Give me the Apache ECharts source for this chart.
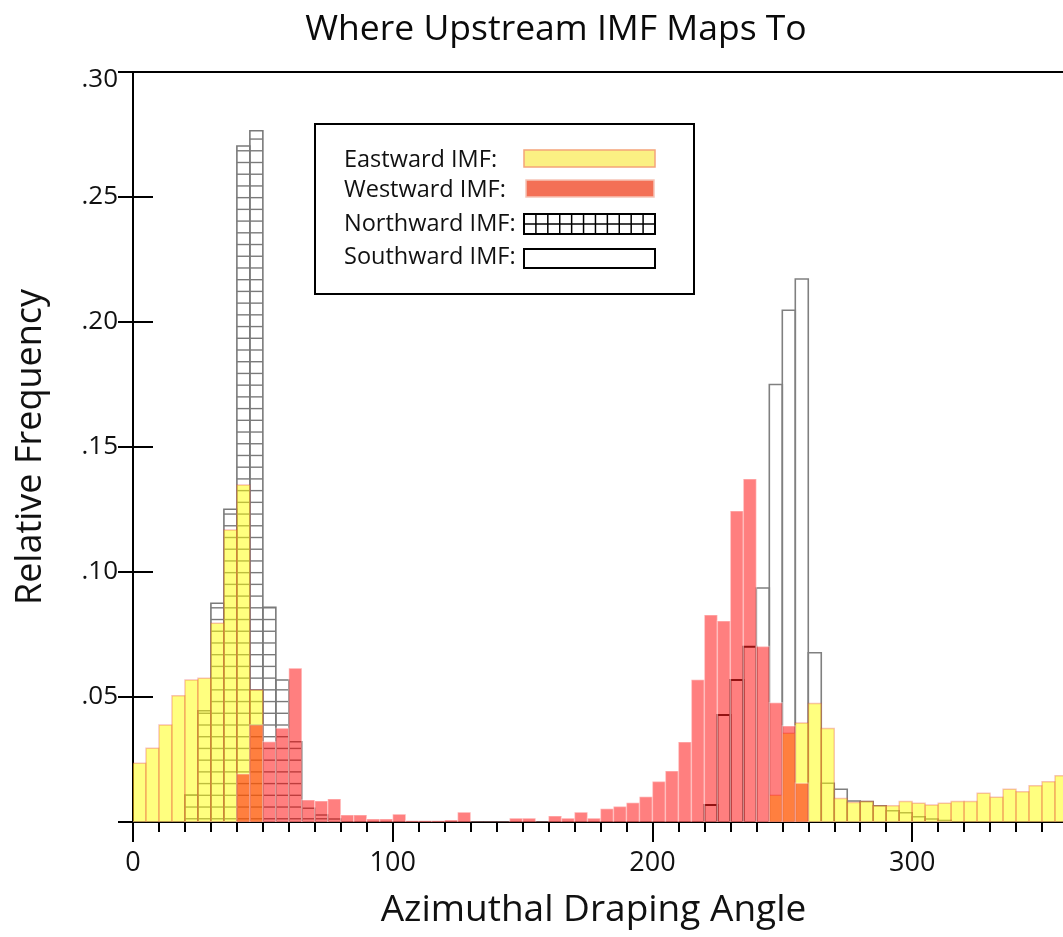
<!DOCTYPE html>
<html><head><meta charset="utf-8">
<script src="https://cdn.jsdelivr.net/npm/echarts@6/dist/echarts.min.js"></script>
<style>html,body{margin:0;padding:0;background:#fff}#c{width:1063px;height:937px}</style>
</head><body><div id="c"></div>
<script>
// ---- data (relative frequency per 5-degree bin, 0..360) ----
const binWidth = 5;
const eastward = [
  0.0235,0.0295,0.0388,0.0505,0.0568,0.0575,0.0795,0.1168,0.1348,0.0528,
  0,0,0,0,0,0,0,0,0,0,
  0,0,0,0,0,0,0,0,0,0,
  0,0,0,0,0,0,0,0,0,0,
  0,0,0,0,0,0,0,0,0,0.0107,
  0.0355,0.0396,0.0474,0.0374,0.0094,0.0078,0.0082,0.0065,0.0065,0.0082,
  0.0075,0.0068,0.0075,0.0082,0.0082,0.0115,0.0099,0.0131,0.0121,0.0145,
  0.0161,0.0185
];
const westward = [
  0,0,0,0,0,0,0,0,0.0192,0.0388,
  0.0321,0.0375,0.0615,0.0088,0.0084,0.0092,0.0028,0.0028,0.0012,0.0012,
  0.0031,0.0005,0.0005,0.0005,0.0008,0.0039,0,0,0,0.0015,
  0.0015,0,0.0024,0.0015,0.0039,0.0015,0.0053,0.0062,0.0077,0.0101,
  0.0162,0.0204,0.0320,0.0569,0.0828,0.0804,0.1244,0.1372,0.0702,0.0477,
  0.0384,0.0155,0,0,0,0,0,0,0,0,
  0,0,0,0,0,0,0,0,0,0,
  0,0
];
// Northward IMF: hatched lobe near 45 deg, plain outlined lobe near 230 deg
const northwardHatched = [
  0,0,0,0,0.0108,0.0445,0.0875,0.1251,0.2704,0.2765,
  0.0859,0.0568,0.0321,0.0055,0.0028,0.0012
];
const northwardOutline = { start: 44, values: [0.0068,0.0428,0.0568,0.0701] };
const southward = { start: 48, values: [
  0.0936,0.1750,0.2047,0.2172,0.0677,0.0155,0.0131,0.0084,0.0082,0.0065,
  0.0045,0.0037,0.0021,0.0012,0.0006
]};
const yTicks = [0, 0.05, 0.10, 0.15, 0.20, 0.25, 0.30];
const xMajorTicks = [0, 100, 200, 300];
const legendItems = ['Eastward IMF:', 'Westward IMF:', 'Northward IMF:', 'Southward IMF:'];

// ---- build ----
function bins(arr, start) {
  start = start || 0;
  return arr.map((v, i) => [(start + i) * binWidth, (start + i + 1) * binWidth, v]);
}
const FONT = '"Open Sans", "Noto Sans", sans-serif';
const HATCH_STEP = 0.0046875, HATCH_OFF = 0.0013;

function rectOf(api) {
  const a = api.coord([api.value(0), api.value(2)]);
  const b = api.coord([api.value(1), 0]);
  return { x: a[0], y: a[1], width: b[0] - a[0], height: b[1] - a[1] };
}
function filledSeries(name, data, fill, stroke, z) {
  return {
    type: 'custom', name, data, silent: true, clip: true, z,
    encode: { x: [0, 1], y: 2 },
    renderItem: (p, api) => ({
      type: 'rect', shape: rectOf(api),
      style: { fill, stroke, lineWidth: 1.4 }
    })
  };
}
function outlineSeries(name, data, stroke, width, hatched) {
  return {
    type: 'custom', name, data, silent: true, clip: true, z: 1,
    encode: { x: [0, 1], y: 2 },
    renderItem: (p, api) => {
      const v = api.value(2);
      if (!(v > 0)) return null;
      const r = rectOf(api);
      const children = [{
        type: 'rect', shape: r,
        style: { fill: 'none', stroke, lineWidth: width }
      }];
      if (hatched) {
        for (let h = HATCH_OFF; h < v; h += HATCH_STEP) {
          const y = api.coord([0, h])[1];
          children.push({
            type: 'line', shape: { x1: r.x, y1: y, x2: r.x + r.width, y2: y },
            style: { stroke, lineWidth: 1.4 }
          });
        }
      }
      return { type: 'group', children };
    }
  };
}

const chart = echarts.init(document.getElementById('c'), null, { renderer: 'canvas' });

// legend graphics
const lgX = 344, lgRows = [160, 190, 224, 257];
const swX = 524, swW = 131;
const legendGraphic = [
  { type: 'rect', shape: { x: 315, y: 124, width: 379, height: 170 },
    style: { fill: '#fff', stroke: '#000', lineWidth: 2 }, z: 100 }
];
legendItems.forEach((t, i) => {
  legendGraphic.push({ type: 'text', x: lgX, y: lgRows[i], z: 101,
    style: { text: t, font: '23.5px ' + FONT, fill: '#111', textVerticalAlign: 'middle', verticalAlign: 'middle' } });
});
legendGraphic.push({ type: 'rect', z: 101, shape: { x: swX, y: 150, width: swW, height: 17 },
  style: { fill: '#fbf083', stroke: '#f5a47a', lineWidth: 1.5 } });
legendGraphic.push({ type: 'rect', z: 101, shape: { x: swX + 2, y: 180, width: swW - 3, height: 17 },
  style: { fill: '#f37056', stroke: '#f6c4b6', lineWidth: 1.5 } });
// northward swatch: grid
const nsY = 214, nsH = 20, nsCols = 11;
legendGraphic.push({ type: 'rect', z: 101, shape: { x: swX, y: nsY, width: swW, height: nsH },
  style: { fill: '#fff', stroke: '#000', lineWidth: 2 } });
legendGraphic.push({ type: 'line', z: 102, shape: { x1: swX, y1: nsY + nsH / 2, x2: swX + swW, y2: nsY + nsH / 2 },
  style: { stroke: '#000', lineWidth: 1.5 } });
for (let c = 1; c < nsCols; c++) {
  const x = swX + c * swW / nsCols;
  legendGraphic.push({ type: 'line', z: 102, shape: { x1: x, y1: nsY, x2: x, y2: nsY + nsH },
    style: { stroke: '#000', lineWidth: 1.5 } });
}
legendGraphic.push({ type: 'rect', z: 101, shape: { x: swX, y: 249, width: swW, height: 19 },
  style: { fill: '#fff', stroke: '#000', lineWidth: 2 } });

const axisLine = { show: true, lineStyle: { color: '#000', width: 2 } };
chart.setOption({
  backgroundColor: '#fff',
  animation: false,
  title: {
    text: 'Where Upstream IMF Maps To', left: 551, top: 7, textAlign: 'center',
    textStyle: { fontFamily: FONT, fontSize: 35.5, fontWeight: 'normal', color: '#0a0a0a' }
  },
  grid: { left: 133, top: 72, width: 935, height: 750, show: true, borderColor: '#000', borderWidth: 2,
          containLabel: false, outerBoundsMode: 'none' },
  xAxis: [
    { type: 'value', min: 0, max: 360, interval: 10, position: 'bottom',
      axisLine, splitLine: { show: false },
      axisTick: { show: true, inside: false, length: 10, lineStyle: { color: '#000', width: 2 } },
      axisLabel: { show: false } },
    { type: 'value', min: 0, max: 360, interval: 100, position: 'bottom',
      axisLine: { show: false }, splitLine: { show: false },
      axisTick: { show: true, inside: false, length: 20, lineStyle: { color: '#000', width: 2 } },
      axisLabel: { show: true, margin: 28, showMaxLabel: false, fontFamily: FONT, fontSize: 27, color: '#111',
        formatter: v => xMajorTicks.includes(v) ? String(v) : '' },
      name: 'Azimuthal Draping Angle', nameLocation: 'middle', nameGap: 70,
      nameTextStyle: { fontFamily: FONT, fontSize: 37, color: '#111', padding: [0, 14, 0, 0] } }
  ],
  yAxis: [
    { type: 'value', min: 0, max: 0.3, interval: 0.05, position: 'left',
      axisLine, splitLine: { show: false },
      axisTick: { show: true, inside: true, length: 20, lineStyle: { color: '#000', width: 2 } },
      axisLabel: { margin: 15, fontFamily: FONT, fontSize: 26, color: '#111',
        formatter: v => {
          if (v === 0) return '';
          const s = v.toFixed(2).slice(1);
          return v > 0.299 ? '{top|' + s + '}' : s;
        },
        rich: { top: { fontFamily: FONT, fontSize: 26, color: '#111', padding: [16, 0, 0, 0] } } },
      name: 'Relative Frequency', nameLocation: 'middle', nameGap: 84, nameRotate: 90,
      nameTextStyle: { fontFamily: FONT, fontSize: 36, color: '#111' } },
    { type: 'value', min: 0, max: 0.3, interval: 0.05, position: 'right',
      axisLine, splitLine: { show: false },
      axisTick: { show: true, inside: true, length: 15, lineStyle: { color: '#000', width: 2 } },
      axisLabel: { show: false } }
  ],
  series: [
    outlineSeries('Northward IMF', bins(northwardHatched), '#7a7a7a', 1.6, true),
    outlineSeries('Northward IMF ', bins(northwardOutline.values, northwardOutline.start), '#262626', 2, false),
    outlineSeries('Southward IMF', bins(southward.values, southward.start), '#808080', 1.6, false),
    filledSeries('Eastward IMF', bins(eastward), 'rgba(255,255,0,0.5)', 'rgba(230,60,60,0.3)', 2),
    filledSeries('Westward IMF', bins(westward), 'rgba(255,0,0,0.5)', 'rgba(255,255,255,0.35)', 3)
  ],
  graphic: legendGraphic
});
</script>
</body></html>
